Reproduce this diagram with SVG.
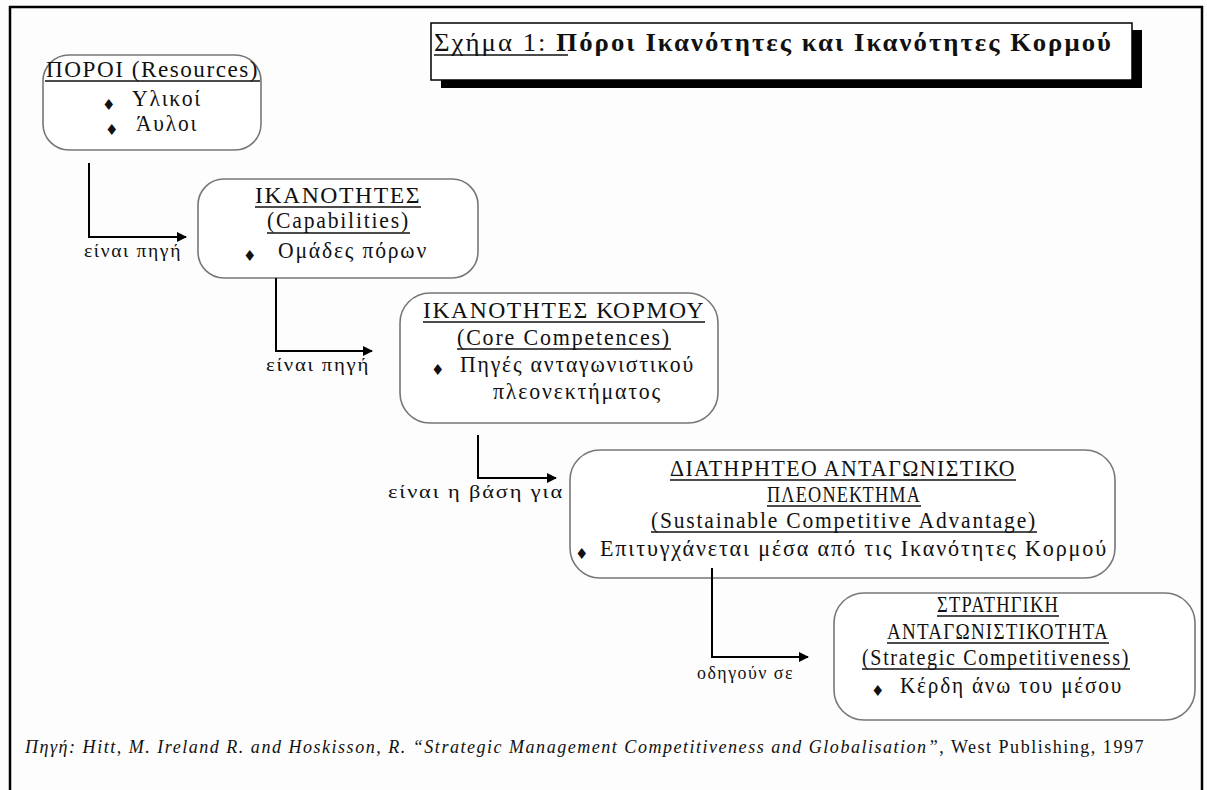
<svg xmlns="http://www.w3.org/2000/svg" width="1207" height="790" viewBox="0 0 1207 790">
<defs>
<style>
.t{font-family:"Liberation Serif","Times New Roman",serif;fill:#111;}
.n{font-size:24px;letter-spacing:2px;}
.c{font-size:23px;letter-spacing:1.5px;}
.lbl{font-size:18px;letter-spacing:1.5px;}
.box{fill:#fff;stroke:#777;stroke-width:1.6;}
.ul{stroke:#111;stroke-width:1.3;}
.con{fill:none;stroke:#000;stroke-width:2;}
.b{font-family:"DejaVu Sans",sans-serif;font-size:15px;fill:#111;}
</style>
<marker id="ah" markerWidth="10" markerHeight="10" refX="9" refY="5" orient="auto" markerUnits="userSpaceOnUse">
<path d="M0,0 L10,5 L0,10 Z" fill="#000"/>
</marker>
</defs>
<rect x="0" y="0" width="1207" height="790" fill="#fdfdfd"/>
<path d="M10,790 L10,7 L1202,7 L1202,790" fill="none" stroke="#000" stroke-width="2.5"/>

<g id="title">
<rect x="441" y="30" width="701" height="58" fill="#000"/>
<rect x="431" y="23" width="701" height="57" fill="#fff" stroke="#000" stroke-width="1.5"/>
<text class="t" x="434" y="51" font-size="26" letter-spacing="2" textLength="679" lengthAdjust="spacingAndGlyphs"><tspan>Σχήμα 1:  </tspan><tspan font-weight="bold">Πόροι Ικανότητες και Ικανότητες Κορμού</tspan></text>
<line class="ul" x1="434" y1="55" x2="568" y2="55"/>
</g>

<g id="resources">
<rect class="box" x="43" y="55" width="218" height="95" rx="26"/>
<text class="t c" x="46" y="77" textLength="213" lengthAdjust="spacingAndGlyphs">ΠΟΡΟΙ (Resources)</text>
<line class="ul" x1="45" y1="81" x2="260" y2="81"/>
<text class="b" x="102" y="110">♦</text>
<text class="t n" x="132" y="106" textLength="70" lengthAdjust="spacingAndGlyphs">Υλικοί</text>
<text class="b" x="105" y="135">♦</text>
<text class="t n" x="136" y="131" textLength="62" lengthAdjust="spacingAndGlyphs">Άυλοι</text>
</g>

<g id="capabilities">
<rect class="box" x="198" y="179" width="280" height="99" rx="26"/>
<text class="t c" x="255" y="203" textLength="166" lengthAdjust="spacingAndGlyphs">ΙΚΑΝΟΤΗΤΕΣ</text>
<line class="ul" x1="255" y1="207" x2="421" y2="207"/>
<text class="t n" x="267" y="228" textLength="143" lengthAdjust="spacingAndGlyphs">(Capabilities)</text>
<line class="ul" x1="267" y1="233" x2="410" y2="233"/>
<text class="b" x="243" y="261">♦</text>
<text class="t n" x="278" y="258" textLength="150" lengthAdjust="spacingAndGlyphs">Ομάδες πόρων</text>
</g>

<g id="core">
<rect class="box" x="400" y="293" width="318" height="130" rx="30"/>
<text class="t c" x="423" y="318" textLength="282" lengthAdjust="spacingAndGlyphs">ΙΚΑΝΟΤΗΤΕΣ ΚΟΡΜΟΥ</text>
<line class="ul" x1="423" y1="322" x2="705" y2="322"/>
<text class="t n" x="457" y="345" textLength="214" lengthAdjust="spacingAndGlyphs">(Core Competences)</text>
<line class="ul" x1="457" y1="349" x2="671" y2="349"/>
<text class="b" x="431" y="375">♦</text>
<text class="t n" x="460" y="372" textLength="235" lengthAdjust="spacingAndGlyphs">Πηγές ανταγωνιστικού</text>
<text class="t n" x="493" y="399" textLength="169" lengthAdjust="spacingAndGlyphs">πλεονεκτήματος</text>
</g>

<g id="sca">
<rect class="box" x="570" y="450" width="545" height="128" rx="30"/>
<text class="t c" x="670" y="476" textLength="346" lengthAdjust="spacingAndGlyphs">ΔΙΑΤΗΡΗΤΕΟ ΑΝΤΑΓΩΝΙΣΤΙΚΟ</text>
<line class="ul" x1="670" y1="480" x2="1016" y2="480"/>
<text class="t c" x="767" y="502" textLength="154" lengthAdjust="spacingAndGlyphs">ΠΛΕΟΝΕΚΤΗΜΑ</text>
<line class="ul" x1="767" y1="506" x2="921" y2="506"/>
<text class="t n" x="651" y="528" textLength="386" lengthAdjust="spacingAndGlyphs">(Sustainable Competitive Advantage)</text>
<line class="ul" x1="651" y1="532" x2="1037" y2="532"/>
<text class="b" x="575" y="559">♦</text>
<text class="t n" x="600" y="556" textLength="508" lengthAdjust="spacingAndGlyphs">Επιτυγχάνεται μέσα από τις Ικανότητες Κορμού</text>
</g>

<g id="strategic">
<rect class="box" x="834" y="593" width="361" height="127" rx="30"/>
<text class="t c" x="937" y="612" textLength="122" lengthAdjust="spacingAndGlyphs">ΣΤΡΑΤΗΓΙΚΗ</text>
<line class="ul" x1="937" y1="616" x2="1059" y2="616"/>
<text class="t c" x="887" y="639" textLength="222" lengthAdjust="spacingAndGlyphs">ΑΝΤΑΓΩΝΙΣΤΙΚΟΤΗΤΑ</text>
<line class="ul" x1="887" y1="643" x2="1109" y2="643"/>
<text class="t n" x="862" y="665" textLength="268" lengthAdjust="spacingAndGlyphs">(Strategic Competitiveness)</text>
<line class="ul" x1="862" y1="669" x2="1130" y2="669"/>
<text class="b" x="871" y="696">♦</text>
<text class="t n" x="900" y="693" textLength="223" lengthAdjust="spacingAndGlyphs">Κέρδη άνω του μέσου</text>
</g>

<g id="connectors">
<path class="con" d="M89,163 L89,237 L186,237" marker-end="url(#ah)"/>
<path class="con" d="M276,278 L276,351 L372,351" marker-end="url(#ah)"/>
<path class="con" d="M478,435 L478,478 L556,478" marker-end="url(#ah)"/>
<path class="con" d="M712,568 L712,657 L808,657" marker-end="url(#ah)"/>
<text class="t lbl" x="84" y="257" textLength="98" lengthAdjust="spacingAndGlyphs">είναι πηγή</text>
<text class="t lbl" x="266" y="371" textLength="104" lengthAdjust="spacingAndGlyphs">είναι πηγή</text>
<text class="t lbl" x="388" y="498" textLength="176" lengthAdjust="spacingAndGlyphs">είναι η βάση για</text>
<text class="t lbl" x="697" y="679" textLength="97" lengthAdjust="spacingAndGlyphs">οδηγούν σε</text>
</g>

<g id="footer">
<text class="t" x="25" y="753" font-size="18" letter-spacing="1.5" textLength="1120" lengthAdjust="spacingAndGlyphs"><tspan font-style="italic">Πηγή: Hitt, M. Ireland R. and Hoskisson, R. “Strategic Management Competitiveness and Globalisation”</tspan>, West Publishing, 1997</text>
</g>
</svg>
